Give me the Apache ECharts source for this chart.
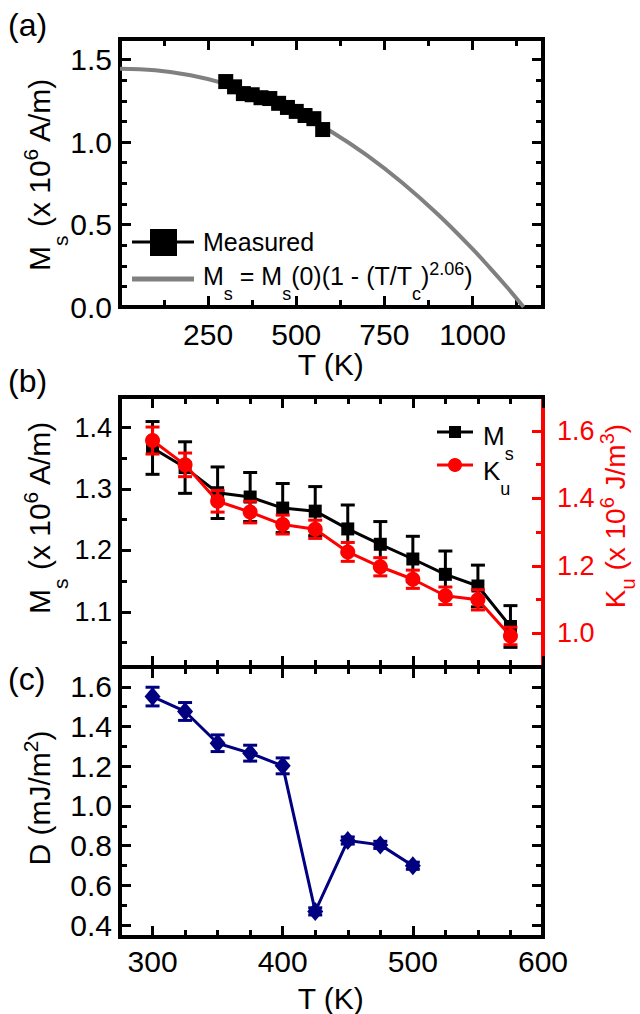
<!DOCTYPE html>
<html>
<head>
<meta charset="utf-8">
<script src="https://cdn.jsdelivr.net/npm/echarts@6/dist/echarts.min.js"></script>
<style>
    html, body {margin: 0; padding: 0; background: #fff;}
    #chart {width: 640px; height: 1014px;}
</style>
</head>
<body>
<div id="chart"></div>
<script>
// ---- data ----
// (a) Ms(T): measured points and the fitted curve
var tempsMeasured = [300, 325, 350, 375, 400, 425, 450, 475, 500, 525, 550, 575];
var msMeasured = [1.367, 1.335, 1.294, 1.287, 1.269, 1.264, 1.235, 1.210, 1.186, 1.161, 1.142, 1.076];
var fitTemps = [0, 100, 200, 300, 400, 500, 600, 700, 800, 900, 1000, 1050, 1100, 1145];
var fitMs = [1.445, 1.435, 1.405, 1.353, 1.279, 1.183, 1.063, 0.921, 0.755, 0.565, 0.352, 0.236, 0.115, 0.0];

// (b) Ms and Ku with error bars
var msErr = [0.043, 0.042, 0.042, 0.040, 0.040, 0.040, 0.039, 0.037, 0.037, 0.038, 0.034, 0.034];
var kuValues = [1.571, 1.499, 1.391, 1.359, 1.322, 1.308, 1.241, 1.197, 1.160, 1.111, 1.099, 0.992];
var kuErr = [0.040, 0.035, 0.032, 0.032, 0.028, 0.027, 0.028, 0.027, 0.027, 0.026, 0.030, 0.026];

// (c) DMI constant D
var tempsD = [300, 325, 350, 375, 400, 425, 450, 475, 500];
var dValues = [1.551, 1.476, 1.316, 1.266, 1.202, 0.469, 0.826, 0.804, 0.699];
var dErr = [0.047, 0.045, 0.042, 0.040, 0.040, 0.018, 0.018, 0.018, 0.018];

// axis ranges and ticks
var aXRange = [0, 1200];
var aXMajor = [0, 250, 500, 750, 1000];
var aXMinor = [125, 375, 625, 875, 1125];
var aXLabels = [250, 500, 750, 1000];
var aYRange = [0, 1.625];
var aYMajor = [0, 0.5, 1.0, 1.5];
var aYMinor = [0.125, 0.25, 0.375, 0.625, 0.75, 0.875, 1.125, 1.25, 1.375];

var tXRange = [275, 600];
var tXMajor = [300, 400, 500, 600];
var tXMinor = [325, 350, 375, 425, 450, 475, 525, 550, 575];

var bYRange = [1.01, 1.45];
var bYMajor = [1.1, 1.2, 1.3, 1.4];
var bYMinor = [1.05, 1.15, 1.25, 1.35, 1.45];
var kuRange = [0.9, 1.7];
var kuMajor = [1.0, 1.2, 1.4, 1.6];
var kuMinor = [1.1, 1.3, 1.5];

var cYRange = [0.34, 1.7];
var cYMajor = [0.4, 0.6, 0.8, 1.0, 1.2, 1.4, 1.6];
var cYMinor = [0.5, 0.7, 0.9, 1.1, 1.3, 1.5];

var FONT = '"Liberation Sans", Arial, sans-serif';
var RED = '#ff0000';
var NAVY = '#000080';

var chart = echarts.init(document.getElementById('chart'), null, {renderer: 'svg'});

function fmt1(v) { return v.toFixed(1); }
function fmt0(v) { return String(v); }

function axis(grid, pos, range, ticks, len, opt) {
    opt = opt || {};
    var color = opt.color || '#000';
    return {
        type: 'value', gridIndex: grid, position: pos,
        min: range[0], max: range[1],
        axisLine: {show: !!opt.line, onZero: false, lineStyle: {color: color, width: 4, cap: 'square'}},
        axisTick: {show: true, inside: true, length: len, customValues: ticks, lineStyle: {color: color, width: 3}},
        axisLabel: opt.labels ? {
            show: true, customValues: opt.labels, margin: opt.margin || 9,
            color: color, fontFamily: FONT, fontSize: opt.size || 30,
            formatter: opt.fmt
        } : {show: false},
        splitLine: {show: false}
    };
}

// one side of a frame: long major ticks (with line / labels) + short minor ticks
function side(list, grid, pos, range, majors, minors, opt) {
    opt = opt || {};
    list.push(axis(grid, pos, range, majors, 11, {line: true, color: opt.color, labels: opt.labels, size: opt.size, fmt: opt.fmt, margin: opt.margin}));
    var idx = list.length - 1;
    list.push(axis(grid, pos, range, minors, 7, {color: opt.color}));
    return idx;
}

var xAxes = [], yAxes = [];
// (a)
var axA = side(xAxes, 0, 'bottom', aXRange, aXMajor, aXMinor, {labels: aXLabels, fmt: fmt0, margin: 12});
side(xAxes, 0, 'top', aXRange, aXMajor, aXMinor);
var ayA = side(yAxes, 0, 'left', aYRange, aYMajor, aYMinor, {labels: aYMajor, fmt: fmt1, margin: 8});
side(yAxes, 0, 'right', aYRange, aYMajor, aYMinor);
// (b)
var axB = side(xAxes, 1, 'bottom', tXRange, tXMajor, tXMinor);
side(xAxes, 1, 'top', tXRange, tXMajor, tXMinor);
var ayB = side(yAxes, 1, 'left', bYRange, bYMajor, bYMinor, {labels: bYMajor, fmt: fmt1, size: 27, margin: 8});
var ayKu = side(yAxes, 1, 'right', kuRange, kuMajor, kuMinor, {labels: kuMajor, fmt: fmt1, size: 27, color: RED, margin: 14});
// (c)
var axC = side(xAxes, 2, 'bottom', tXRange, tXMajor, tXMinor, {labels: tXMajor, fmt: fmt0, margin: 9});
side(xAxes, 2, 'top', tXRange, tXMajor, tXMinor);
var ayC = side(yAxes, 2, 'left', cYRange, cYMajor, cYMinor, {labels: cYMajor, fmt: fmt1, margin: 8});
side(yAxes, 2, 'right', cYRange, cYMajor, cYMinor);

function pairs(xs, ys, es) {
    return xs.map(function (x, i) { return es ? [x, ys[i], es[i]] : [x, ys[i]]; });
}

function errorBars(color, cap, width) {
    return function (params, api) {
        var x = api.value(0), y = api.value(1), e = api.value(2);
        var hi = api.coord([x, y + e]), lo = api.coord([x, y - e]);
        var st = {stroke: color, lineWidth: width};
        return {
            type: 'group', children: [
                {type: 'line', shape: {x1: hi[0], y1: hi[1], x2: lo[0], y2: lo[1]}, style: st},
                {type: 'line', shape: {x1: hi[0] - cap, y1: hi[1], x2: hi[0] + cap, y2: hi[1]}, style: st},
                {type: 'line', shape: {x1: lo[0] - cap, y1: lo[1], x2: lo[0] + cap, y2: lo[1]}, style: st}
            ]
        };
    };
}

// text with Origin-like sub/superscripts, laid out run by run
var measureCtx = document.createElement('canvas').getContext('2d');
function textW(str, size) {
    measureCtx.font = size + 'px ' + FONT;
    return measureCtx.measureText(str).width;
}

// runs: [text, level]  level 0 = normal, -1 = subscript, 1 = superscript
// (x, y) is the middle line of the normal text
function richText(x, y, runs, S, color, opt) {
    opt = opt || {};
    var s = Math.round(S * 0.7);
    var subDepth = opt.subDepth || 0.7;
    var kids = [], cx = 0;
    runs.forEach(function (r) {
        var size = r[1] === 0 ? S : s;
        var dy = r[1] === 0 ? 0 : (r[1] < 0 ? subDepth * S : -0.28 * S);
        kids.push({
            type: 'text', x: cx, y: dy, z: 50,
            style: {text: r[0], fill: color, fontFamily: FONT, fontSize: size, align: 'left', verticalAlign: 'middle'}
        });
        cx += textW(r[0], size);
    });
    if (opt.align === 'center') {
        kids.forEach(function (k) { k.x -= cx / 2; });
    }
    return {type: 'group', x: x, y: y, rotation: opt.rotate ? Math.PI / 2 : 0, z: 50, children: kids};
}

var msTitle = [['M', 0], ['s', -1], [' (x 10', 0], ['6', 1], [' A/m)', 0]];
var kuTitle = [['K', 0], ['u', -1], [' (x 10', 0], ['6', 1], [' J/m', 0], ['3', 1], [')', 0]];
var dTitle = [['D (mJ/m', 0], ['2', 1], [')', 0]];
var fitLegend = [['M', 0], ['s', -1], [' = M', 0], ['s', -1], ['(0)(1 - (T/T', 0], ['c', -1], [')', 0], ['2.06', 1], [')', 0]];

var graphics = [
    richText(8, 25, [['(a)', 0]], 32, '#000'),
    richText(8, 381, [['(b)', 0]], 32, '#000'),
    richText(8, 679, [['(c)', 0]], 32, '#000'),
    richText(331, 364, [['T (K)', 0]], 30, '#000', {align: 'center'}),
    richText(331, 998, [['T (K)', 0]], 30, '#000', {align: 'center'}),
    richText(39, 174, msTitle, 30, '#000', {align: 'center', rotate: true}),
    richText(39, 517, msTitle, 30, '#000', {align: 'center', rotate: true}),
    richText(615, 516, kuTitle, 28, RED, {align: 'center', rotate: true, subDepth: 0.45}),
    richText(39, 798, dTitle, 30, '#000', {align: 'center', rotate: true}),

    // legend (a)
    {type: 'line', z: 50, shape: {x1: 132, y1: 242, x2: 194, y2: 242}, style: {stroke: '#000', lineWidth: 3}},
    {type: 'rect', z: 51, shape: {x: 150, y: 229, width: 27, height: 27}, style: {fill: '#000'}},
    richText(203, 241.5, [['Measured', 0]], 25, '#000'),
    {type: 'line', z: 50, shape: {x1: 132, y1: 279, x2: 194, y2: 279}, style: {stroke: '#808080', lineWidth: 5}},
    richText(203, 276, fitLegend, 25, '#000'),

    // legend (b)
    {type: 'line', z: 50, shape: {x1: 437, y1: 432, x2: 473, y2: 432}, style: {stroke: '#000', lineWidth: 3}},
    {type: 'rect', z: 51, shape: {x: 449, y: 426, width: 12, height: 12}, style: {fill: '#000'}},
    richText(483, 436, [['M', 0], ['s', -1]], 26, '#000'),
    {type: 'line', z: 50, shape: {x1: 437, y1: 465, x2: 473, y2: 465}, style: {stroke: RED, lineWidth: 3}},
    {type: 'circle', z: 51, shape: {cx: 455, cy: 465, r: 7}, style: {fill: RED}},
    richText(483, 471, [['K', 0], ['u', -1]], 26, '#000')
];

var option = {
    animation: false,
    backgroundColor: '#fff',
    grid: [
        {left: 120, top: 39, width: 423, height: 268},
        {left: 120, top: 397, width: 423, height: 270},
        {left: 120, top: 667, width: 423, height: 270}
    ],
    xAxis: xAxes,
    yAxis: yAxes,
    graphic: graphics,
    series: [
        {
            name: 'fit', type: 'line', xAxisIndex: axA, yAxisIndex: ayA, z: 2,
            data: pairs(fitTemps, fitMs), smooth: 0.4, showSymbol: false,
            lineStyle: {color: '#808080', width: 4}
        },
        {
            name: 'Measured', type: 'line', xAxisIndex: axA, yAxisIndex: ayA, z: 3,
            data: pairs(tempsMeasured, msMeasured), symbol: 'rect', symbolSize: 15,
            itemStyle: {color: '#000'}, lineStyle: {color: '#000', width: 3}
        },
        {
            name: 'Ms err', type: 'custom', xAxisIndex: axB, yAxisIndex: ayB, z: 2,
            data: pairs(tempsMeasured, msMeasured, msErr), encode: {x: 0, y: 1},
            renderItem: errorBars('#000', 7, 3)
        },
        {
            name: 'Ms', type: 'line', xAxisIndex: axB, yAxisIndex: ayB, z: 3,
            data: pairs(tempsMeasured, msMeasured), symbol: 'rect', symbolSize: 13,
            itemStyle: {color: '#000'}, lineStyle: {color: '#000', width: 3}
        },
        {
            name: 'Ku err', type: 'custom', xAxisIndex: axB, yAxisIndex: ayKu, z: 4,
            data: pairs(tempsMeasured, kuValues, kuErr), encode: {x: 0, y: 1},
            renderItem: errorBars(RED, 7, 3)
        },
        {
            name: 'Ku', type: 'line', xAxisIndex: axB, yAxisIndex: ayKu, z: 5,
            data: pairs(tempsMeasured, kuValues), symbol: 'circle', symbolSize: 15,
            itemStyle: {color: RED}, lineStyle: {color: RED, width: 3}
        },
        {
            name: 'D err', type: 'custom', xAxisIndex: axC, yAxisIndex: ayC, z: 2,
            data: pairs(tempsD, dValues, dErr), encode: {x: 0, y: 1},
            renderItem: errorBars(NAVY, 7, 3)
        },
        {
            name: 'D', type: 'line', xAxisIndex: axC, yAxisIndex: ayC, z: 3,
            data: pairs(tempsD, dValues), symbol: 'diamond', symbolSize: [16, 19],
            itemStyle: {color: NAVY}, lineStyle: {color: NAVY, width: 3}
        }
    ]
};

chart.setOption(option);
</script>
</body>
</html>
